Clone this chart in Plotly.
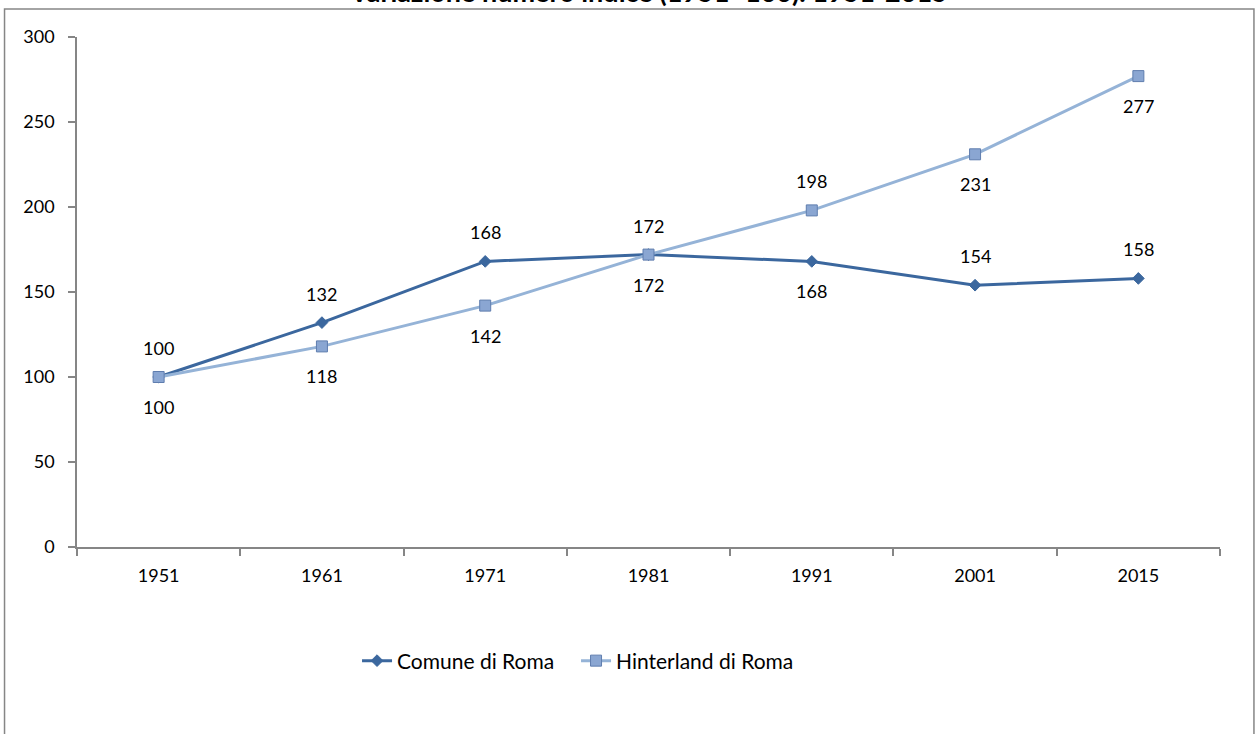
import plotly.graph_objects as go

years = ["1951", "1961", "1971", "1981", "1991", "2001", "2015"]
comune = [100, 132, 168, 172, 168, 154, 158]
hinterland = [100, 118, 142, 172, 198, 231, 277]
comune_label_pos = ["above", "above", "above", "above", "below", "above", "above"]
hinter_label_pos = ["below", "below", "below", "below", "above", "below", "below"]
y_ticks = [0, 50, 100, 150, 200, 250, 300]

title_text = "Variazione numero indice (1951=100). 1951-2015"
FONT = "Lato"
C1 = "#3B679E"
C2 = "#95B3D7"

fig = go.Figure()
fig.add_trace(go.Scatter(
    x=years, y=comune, name="Comune di Roma", mode="lines+markers",
    line=dict(color=C1, width=3),
    marker=dict(symbol="diamond", size=9, color=C1, line=dict(color=C1, width=1)),
))
fig.add_trace(go.Scatter(
    x=years, y=hinterland, name="Hinterland di Roma", mode="lines+markers",
    line=dict(color=C2, width=3),
    marker=dict(symbol="square", size=11, color="#8AA6D2", line=dict(color="#5F7DAE", width=1)),
))

annotations = []
for ys, pos in [(comune, comune_label_pos), (hinterland, hinter_label_pos)]:
    for i, (y, p) in enumerate(zip(ys, pos)):
        annotations.append(dict(
            x=i, y=y, xref="x", yref="y", text=str(y), showarrow=False,
            yshift=29 if p == "above" else -30,
            font=dict(family=FONT, size=18, color="#000000"),
        ))

annotations.append(dict(
    x=0.5, y=1.052, xref="paper", yref="paper", text="<b>" + title_text + "</b>",
    showarrow=False, yanchor="bottom", xanchor="center",
    font=dict(family=FONT, size=27, color="#000000"),
))

fig.update_layout(
    width=1258, height=734,
    margin=dict(l=77, r=38, t=37, b=187),
    paper_bgcolor="white", plot_bgcolor="white",
    font=dict(family=FONT, size=18, color="#000000"),
    showlegend=True,
    legend=dict(orientation="h", x=0.245, xanchor="left", y=-0.2235, yanchor="middle",
                font=dict(family=FONT, size=21), entrywidth=174, entrywidthmode="pixels"),
    annotations=annotations,
    shapes=[dict(type="rect", xref="paper", yref="paper",
                 x0=-0.0634, x1=1.0297, y0=-0.40, y1=1.0549,
                 line=dict(color="#868686", width=1.5), fillcolor="rgba(0,0,0,0)", layer="below")],
)
fig.update_xaxes(
    type="category", range=[-0.5, 6.5], showgrid=False,
    showline=True, linecolor="#868686", linewidth=1.5,
    ticks="outside", tickson="boundaries", ticklen=7, tickcolor="#868686", tickwidth=1.5,
    tickfont=dict(family=FONT, size=18), ticklabelstandoff=12,
)
fig.update_yaxes(
    range=[0, 300], tickvals=y_ticks, showgrid=False, zeroline=False,
    showline=True, linecolor="#868686", linewidth=1.5,
    ticks="outside", ticklen=7, tickcolor="#868686", tickwidth=1.5,
    tickfont=dict(family=FONT, size=18), ticklabelstandoff=10,
)

fig.write_html("out.html", config={"displayModeBar": False},
               post_script="document.body.style.margin='0';")
